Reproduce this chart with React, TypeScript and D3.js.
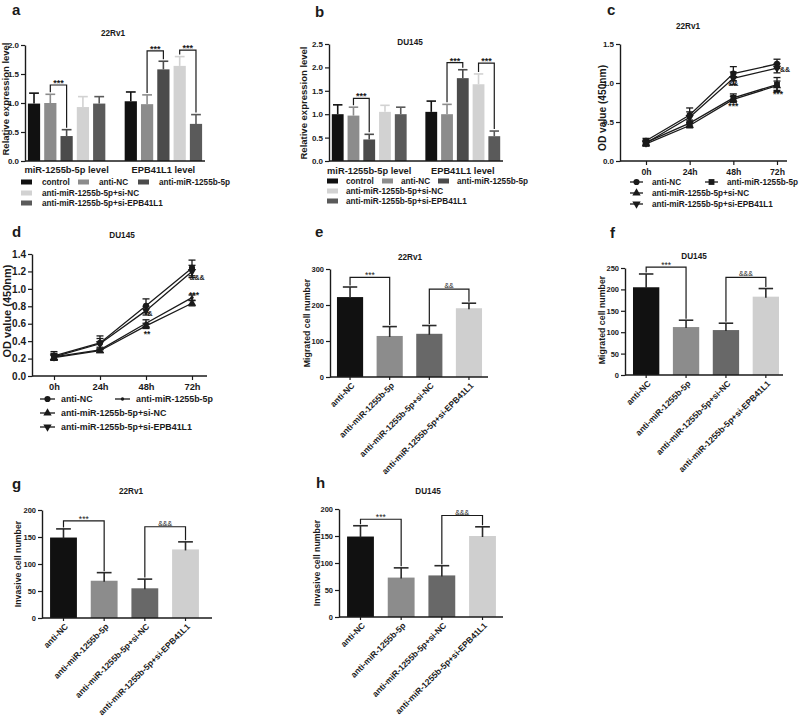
import React, { useEffect, useRef } from 'react';
import * as d3 from 'd3';

const FONT = '"Liberation Sans", Arial, Helvetica, sans-serif';
const INK = '#1a1a1a';

// ---------- Panels a, b : qPCR grouped bars ----------
const qpcrGroups = ['miR-1255b-5p level', 'EPB41L1 level'];
const qpcrSeries = ['control', 'anti-NC', 'anti-miR-1255b-5p', 'anti-miR-1255b-5p+si-NC', 'anti-miR-1255b-5p+si-EPB41L1'];
const qpcrColors = ['#111111', '#8c8c8c', '#4b4b4b', '#d2d2d2', '#5a5a5a'];
const aMiR = [0.99, 1.0, 0.43, 0.93, 0.99];
const aMiRErr = [0.18, 0.15, 0.11, 0.18, 0.12];
const aEPB = [1.03, 0.98, 1.58, 1.64, 0.64];
const aEPBErr = [0.16, 0.16, 0.14, 0.16, 0.16];
const bMiR = [1.0, 0.97, 0.46, 1.05, 1.0];
const bMiRErr = [0.2, 0.18, 0.11, 0.14, 0.15];
const bEPB = [1.05, 1.0, 1.77, 1.64, 0.53];
const bEPBErr = [0.23, 0.21, 0.18, 0.22, 0.11];
const aTicks = [0, 0.5, 1.0, 1.5, 2.0];
const bTicks = [0, 0.5, 1.0, 1.5, 2.0, 2.5];
// [group, fromSeries, toSeries, level, label]
const aBrackets: any[] = [[0, 1, 2, 1.31, '***'], [1, 1, 2, 1.9, '***'], [1, 3, 4, 1.91, '***']];
const bBrackets: any[] = [[0, 1, 2, 1.34, '***'], [1, 1, 2, 2.1, '***'], [1, 3, 4, 2.09, '***']];

// ---------- Panels c, d : CCK-8 growth curves ----------
const timePoints = ['0h', '24h', '48h', '72h'];
const lineSeries = ['anti-NC', 'anti-miR-1255b-5p', 'anti-miR-1255b-5p+si-NC', 'anti-miR-1255b-5p+si-EPB41L1'];
const cAntiNC = [0.26, 0.59, 1.12, 1.245];
const cAntiMiR = [0.24, 0.485, 0.81, 0.98];
const cSiNC = [0.22, 0.455, 0.79, 0.965];
const cSiEPB = [0.23, 0.56, 1.06, 1.19];
const cAntiNCErr = [0.03, 0.09, 0.09, 0.06];
const cAntiMiRErr = [0.03, 0.04, 0.05, 0.09];
const cSiNCErr = [0.03, 0.03, 0.04, 0.06];
const cSiEPBErr = [0.03, 0.07, 0.08, 0.06];
const dAntiNC = [0.23, 0.38, 0.805, 1.24];
const dAntiMiR = [0.22, 0.3, 0.605, 0.9];
const dSiNC = [0.21, 0.29, 0.575, 0.835];
const dSiEPB = [0.22, 0.37, 0.75, 1.2];
const dAntiNCErr = [0.05, 0.08, 0.08, 0.09];
const dAntiMiRErr = [0.03, 0.03, 0.04, 0.03];
const dSiNCErr = [0.03, 0.02, 0.03, 0.03];
const dSiEPBErr = [0.04, 0.06, 0.05, 0.07];
const cTicks = [0, 0.5, 1.0, 1.5];
const dTicks = [0, 0.2, 0.4, 0.6, 0.8, 1.0, 1.2, 1.4];
const cMarkers = ['circle', 'square', 'triangle', 'triangleDown'];
const dMarkers = ['circle', 'dot', 'triangle', 'triangleDown'];
// [time, value, dx, label]
const cNotes: any[] = [['48h', 1.0, 0, '&&'], ['48h', 0.73, 0, '***'], ['72h', 1.167, 8, '&&'], ['72h', 0.876, 1, '***']];
const dNotes: any[] = [['72h', 1.125, 5, '&&&'], ['72h', 0.953, 2, '***'], ['48h', 0.723, 4, '&'], ['48h', 0.505, 1, '**']];

// ---------- Panels e-h : migration / invasion ----------
const cellCategories = ['anti-NC', 'anti-miR-1255b-5p', 'anti-miR-1255b-5p+si-NC', 'anti-miR-1255b-5p+si-EPB41L1'];
const cellColors = ['#111111', '#8c8c8c', '#686868', '#cfcfcf'];
const eValues = [222, 114, 120, 191];
const eErr = [28, 26, 23, 14];
const fValues = [205, 112, 105, 183];
const fErr = [31, 16, 16, 19];
const gValues = [149, 69, 55, 127];
const gErr = [16, 15, 17, 14];
const hValues = [149, 73, 77, 150];
const hErr = [20, 18, 18, 17];
const eTicks = [0, 100, 200, 300];
const fTicks = [0, 50, 100, 150, 200, 250];
const ghTicks = [0, 50, 100, 150, 200];
const eBrackets: any[] = [[0, 1, 277, '***'], [2, 3, 244, '&&']];
const fBrackets: any[] = [[0, 1, 252, '***'], [2, 3, 228, '&&&']];
const gBrackets: any[] = [[0, 1, 180, '***'], [2, 3, 169, '&&&']];
const hBrackets: any[] = [[0, 1, 181, '***'], [2, 3, 188, '&&&']];

// ---------- helpers ----------
function txt(g: any, x: number, y: number, s: string, size: number, opts: any = {}) {
  return g.append('text').attr('x', x).attr('y', y).text(s)
    .attr('font-size', size).attr('font-weight', opts.weight ?? 'bold')
    .attr('text-anchor', opts.anchor ?? 'start').attr('fill', INK)
    .attr('font-family', FONT);
}
function rotLabel(g: any, bx: number, cy: number, s: string, size: number) {
  g.append('text').attr('transform', `translate(${bx},${cy}) rotate(-90)`)
    .attr('text-anchor', 'middle').attr('font-size', size).attr('font-weight', 'bold')
    .attr('font-family', FONT).attr('fill', INK).text(s);
}
function yAxis(g: any, y: any, x: number, ticks: number[], fmt: any, fs: number) {
  const ax = d3.axisLeft(y).tickValues(ticks).tickFormat(fmt).tickSize(4).tickSizeOuter(0).tickPadding(2);
  const a = g.append('g').attr('transform', `translate(${x},0)`).call(ax);
  a.select('.domain').attr('stroke', INK).attr('stroke-width', 1.4);
  a.selectAll('.tick line').attr('stroke', INK).attr('stroke-width', 1.2);
  a.selectAll('.tick text').attr('fill', INK).attr('font-size', fs).attr('font-weight', 'bold').attr('font-family', FONT);
}
function sigLabel(g: any, cx: number, cy: number, label: string, fs: number, weight = 'bold') {
  const k = label.includes('*') ? 0.55 : 0.36;
  txt(g, cx, cy + k * fs, label, fs, { anchor: 'middle', weight });
}
function bracket(g: any, xl: number, yl: number, xr: number, yr: number, yb: number) {
  g.append('path').attr('d', `M${xl},${yl}V${yb}H${xr}V${yr}`)
    .attr('fill', 'none').attr('stroke', INK).attr('stroke-width', 1.2);
}
function errBar(g: any, cx: number, y0: number, y1: number, cap: number, color: string) {
  g.append('line').attr('x1', cx).attr('x2', cx).attr('y1', y0).attr('y2', y1).attr('stroke', color).attr('stroke-width', 1.6);
  g.append('line').attr('x1', cx - cap / 2).attr('x2', cx + cap / 2).attr('y1', y1).attr('y2', y1).attr('stroke', color).attr('stroke-width', 1.6);
}

function drawQpcr(svg: any, p: any) {
  const g = svg.append('g');
  const y = d3.scaleLinear().domain([0, p.yMax]).range([p.yBot, p.yTop]);
  const x0 = d3.scaleBand().domain(qpcrGroups).range([p.x0, p.x1]).paddingInner(0.2).paddingOuter(0.03);
  const x1 = d3.scaleBand().domain(qpcrSeries).range([0, x0.bandwidth()]).paddingInner(0.25);
  const vals = [p.miR, p.epb];
  const errs = [p.miRErr, p.epbErr];
  const bw = x1.bandwidth();
  const cxOf = (gi: number, si: number) => (x0(qpcrGroups[gi]) as number) + (x1(qpcrSeries[si]) as number) + bw / 2;
  qpcrGroups.forEach((grp, gi) => {
    qpcrSeries.forEach((s, si) => {
      const v = vals[gi][si], e = errs[gi][si];
      const cx = cxOf(gi, si);
      errBar(g, cx, y(v), y(v + e), bw * 0.8, qpcrColors[si]);
      g.append('rect').attr('x', cx - bw / 2).attr('y', y(v)).attr('width', bw).attr('height', y(0) - y(v)).attr('fill', qpcrColors[si]);
    });
    txt(g, (x0(grp) as number) + x0.bandwidth() / 2, p.catY, grp, 9.3, { anchor: 'middle' });
  });
  g.append('line').attr('x1', p.x0).attr('x2', p.x1).attr('y1', p.yBot).attr('y2', p.yBot).attr('stroke', INK).attr('stroke-width', 1.4);
  yAxis(g, y, p.x0, p.ticks, d3.format('.1f'), 8);
  p.brackets.forEach((b: any) => {
    const [gi, a, c, lvl, lab] = b;
    const xl = cxOf(gi, a), xr = cxOf(gi, c);
    const yl = y(vals[gi][a] + errs[gi][a]) - 2, yr = y(vals[gi][c] + errs[gi][c]) - 2;
    const yb = y(lvl);
    bracket(g, xl, yl, xr, yr, yb);
    sigLabel(g, (xl + xr) / 2, yb - 4, lab, 9);
  });
  // legend
  const slots = [[0, 0], [1, 0], [2, 0], [0, 1], [0, 2]];
  qpcrSeries.forEach((s, si) => {
    const [col, row] = slots[si];
    const lx = p.legX + p.legCols[col];
    const ly = p.legRows[row];
    g.append('rect').attr('x', lx).attr('y', ly - 2.5).attr('width', 11).attr('height', 5).attr('fill', qpcrColors[si]);
    txt(g, lx + p.legText, ly + 3, s, 8.2);
  });
  txt(g, p.titleX, p.titleY, p.title, 8.2, { anchor: 'middle' });
  txt(g, p.letterX, p.letterY, p.letter, 15);
  rotLabel(g, p.ylabX, p.ylabY, 'Relative expression level', 9.5);
}

function marker(g: any, kind: string, x: number, y: number) {
  let sym: any = d3.symbolCircle, size = 30, rot = 0;
  if (kind === 'square') { sym = d3.symbolSquare; size = 34; }
  if (kind === 'triangle') { sym = d3.symbolTriangle; size = 30; }
  if (kind === 'triangleDown') { sym = d3.symbolTriangle; size = 30; rot = 180; }
  if (kind === 'dot') { sym = d3.symbolCircle; size = 9; }
  g.append('path').attr('d', d3.symbol().type(sym).size(size)())
    .attr('transform', `translate(${x},${y}) rotate(${rot})`).attr('fill', INK);
}

function drawGrowth(svg: any, p: any) {
  const g = svg.append('g');
  const y = d3.scaleLinear().domain([0, p.yMax]).range([p.yBot, p.yTop]);
  const x = d3.scalePoint().domain(timePoints).range([p.px0, p.px1]);
  const line = d3.line().x((d: any, i: number) => x(timePoints[i]) as number).y((d: any) => y(d));
  p.series.forEach((vals: number[], si: number) => {
    g.append('path').attr('d', (line as any)(vals)).attr('fill', 'none').attr('stroke', INK).attr('stroke-width', 1.3);
    vals.forEach((v, ti) => {
      const cx = x(timePoints[ti]) as number;
      const e = p.errs[si][ti];
      g.append('line').attr('x1', cx).attr('x2', cx).attr('y1', y(v - e)).attr('y2', y(v + e)).attr('stroke', INK).attr('stroke-width', 1.3);
      g.append('line').attr('x1', cx - 3.5).attr('x2', cx + 3.5).attr('y1', y(v + e)).attr('y2', y(v + e)).attr('stroke', INK).attr('stroke-width', 1.3);
      g.append('line').attr('x1', cx - 3.5).attr('x2', cx + 3.5).attr('y1', y(v - e)).attr('y2', y(v - e)).attr('stroke', INK).attr('stroke-width', 1.3);
      marker(g, p.markers[si], cx, y(v));
    });
  });
  const ax = d3.axisBottom(x).tickSize(4).tickSizeOuter(0).tickPadding(3.5);
  const a = g.append('g').attr('transform', `translate(0,${p.yBot})`).call(ax);
  a.select('.domain').remove();
  a.selectAll('.tick line').attr('stroke', INK).attr('stroke-width', 1.2);
  a.selectAll('.tick text').attr('fill', INK).attr('font-size', p.xfs).attr('font-weight', 'bold').attr('font-family', FONT);
  g.append('line').attr('x1', p.x0).attr('x2', p.x1).attr('y1', p.yBot).attr('y2', p.yBot).attr('stroke', INK).attr('stroke-width', 1.4);
  yAxis(g, y, p.x0, p.ticks, d3.format('.1f'), p.yfs);
  p.notes.forEach((n: any) => {
    const [t, v, dx, lab] = n;
    sigLabel(g, (x(t) as number) + dx, y(v), lab, lab.includes('*') ? 8.5 : 7);
  });
  const slots = [[0, 0], [1, 0], [0, 1], [0, 2]];
  lineSeries.forEach((s, si) => {
    const [col, row] = slots[si];
    const lx = p.legX + col * p.legCol2;
    const ly = p.legRows[row];
    g.append('line').attr('x1', lx).attr('x2', lx + p.legLine).attr('y1', ly).attr('y2', ly).attr('stroke', INK).attr('stroke-width', 1.3);
    marker(g, p.markers[si], lx + p.legLine / 2, ly);
    txt(g, lx + p.legText, ly + p.legFs * 0.36, s, p.legFs);
  });
  txt(g, p.titleX, p.titleY, p.title, 8.2, { anchor: 'middle' });
  txt(g, p.letterX, p.letterY, p.letter, 15);
  rotLabel(g, p.ylabX, p.ylabY, 'OD value (450nm)', p.ylabFs);
}

function drawCells(svg: any, p: any) {
  const g = svg.append('g');
  const y = d3.scaleLinear().domain([0, p.yMax]).range([p.yBot, p.yTop]);
  const x = d3.scaleBand().domain(cellCategories).range(p.band).paddingInner(0.34).paddingOuter(0.1);
  const bw = x.bandwidth();
  const cxOf = (i: number) => (x(cellCategories[i]) as number) + bw / 2;
  p.values.forEach((v: number, i: number) => {
    const cx = cxOf(i);
    g.append('rect').attr('x', cx - bw / 2).attr('y', y(v)).attr('width', bw).attr('height', y(0) - y(v)).attr('fill', cellColors[i]);
    errBar(g, cx, y(v) + 1, y(v + p.errs[i]), bw * 0.55, '#2a2a2a');
    g.append('line').attr('x1', cx).attr('x2', cx).attr('y1', p.yBot).attr('y2', p.yBot + 3).attr('stroke', INK).attr('stroke-width', 1.2);
    g.append('text').attr('transform', `translate(${cx + 3},${p.yBot + 7}) rotate(-45)`)
      .attr('text-anchor', 'end').attr('dy', '0.35em').attr('font-size', 8.5).attr('font-weight', 'bold')
      .attr('font-family', FONT).attr('fill', INK).text(cellCategories[i]);
  });
  g.append('line').attr('x1', p.ax0).attr('x2', p.ax1).attr('y1', p.yBot).attr('y2', p.yBot).attr('stroke', INK).attr('stroke-width', 1.4);
  yAxis(g, y, p.ax0, p.ticks, d3.format('d'), 7.5);
  p.brackets.forEach((b: any) => {
    const [a, c, lvl, lab] = b;
    const xl = cxOf(a), xr = cxOf(c);
    const yl = y(p.values[a] + p.errs[a]) - 1.5, yr = y(p.values[c] + p.errs[c]) - 1.5;
    const yb = y(lvl);
    bracket(g, xl, yl, xr, yr, yb);
    sigLabel(g, (xl + xr) / 2, yb - 3.5, lab, lab.includes('*') ? 8.5 : 7, 'normal');
  });
  txt(g, p.titleX, p.titleY, p.title, 8.2, { anchor: 'middle' });
  txt(g, p.letterX, p.letterY, p.letter, 15);
  rotLabel(g, p.ylabX, p.ylabY, p.ylab, 8.8);
}

export default function App() {
  const ref = useRef<SVGSVGElement>(null);
  useEffect(() => {
    const svg = d3.select(ref.current);
    svg.selectAll('*').remove();
    svg.append('rect').attr('width', 800).attr('height', 724).attr('fill', '#ffffff');

    drawQpcr(svg, {
      x0: 25, x1: 205, yTop: 45, yBot: 161, yMax: 2, ticks: aTicks,
      miR: aMiR, miRErr: aMiRErr, epb: aEPB, epbErr: aEPBErr, brackets: aBrackets,
      catY: 173, legX: 21, legCols: [0, 57, 117], legRows: [182, 193, 203], legText: 21,
      title: '22Rv1', titleX: 113, titleY: 36, letter: 'a', letterX: 12, letterY: 15, ylabX: 9, ylabY: 99,
    });
    drawQpcr(svg, {
      x0: 329, x1: 503, yTop: 44, yBot: 161, yMax: 2.5, ticks: bTicks,
      miR: bMiR, miRErr: bMiRErr, epb: bEPB, epbErr: bEPBErr, brackets: bBrackets,
      catY: 174, legX: 327, legCols: [0, 55, 111], legRows: [181, 191, 201], legText: 19,
      title: 'DU145', titleX: 410, titleY: 45, letter: 'b', letterX: 315, letterY: 17, ylabX: 306.5, ylabY: 103,
    });
    drawGrowth(svg, {
      x0: 620, x1: 787, px0: 646, px1: 777, yTop: 44, yBot: 161, yMax: 1.5, ticks: cTicks,
      series: [cAntiNC, cAntiMiR, cSiNC, cSiEPB], errs: [cAntiNCErr, cAntiMiRErr, cSiNCErr, cSiEPBErr],
      markers: cMarkers, notes: cNotes, xfs: 8.7, yfs: 8,
      legX: 630, legCol2: 75, legRows: [182, 193, 204], legLine: 13, legText: 22, legFs: 8.2,
      title: '22Rv1', titleX: 688, titleY: 29, letter: 'c', letterX: 607, letterY: 15, ylabX: 605.5, ylabY: 108, ylabFs: 10.2,
    });
    drawGrowth(svg, {
      x0: 32, x1: 207, px0: 54, px1: 192, yTop: 254, yBot: 376, yMax: 1.4, ticks: dTicks,
      series: [dAntiNC, dAntiMiR, dSiNC, dSiEPB], errs: [dAntiNCErr, dAntiMiRErr, dSiNCErr, dSiEPBErr],
      markers: dMarkers, notes: dNotes, xfs: 9.3, yfs: 10,
      legX: 40, legCol2: 75, legRows: [399, 413, 427], legLine: 15, legText: 21, legFs: 8.9,
      title: 'DU145', titleX: 122, titleY: 238, letter: 'd', letterX: 12, letterY: 237, ylabX: 11, ylabY: 311, ylabFs: 11,
    });
    drawCells(svg, {
      ax0: 330, ax1: 488, band: [333, 486], yTop: 269, yBot: 377, yMax: 300, ticks: eTicks,
      values: eValues, errs: eErr, brackets: eBrackets, ylab: 'Migrated cell number',
      title: '22Rv1', titleX: 410, titleY: 260, letter: 'e', letterX: 315, letterY: 237, ylabX: 310, ylabY: 323,
    });
    drawCells(svg, {
      ax0: 625, ax1: 783, band: [629, 783], yTop: 268, yBot: 375, yMax: 250, ticks: fTicks,
      values: fValues, errs: fErr, brackets: fBrackets, ylab: 'Migrated cell number',
      title: 'DU145', titleX: 694, titleY: 259, letter: 'f', letterX: 610, letterY: 238, ylabX: 605, ylabY: 320,
    });
    drawCells(svg, {
      ax0: 42, ax1: 212, band: [46, 203], yTop: 510, yBot: 618, yMax: 200, ticks: ghTicks,
      values: gValues, errs: gErr, brackets: gBrackets, ylab: 'Invasive cell number',
      title: '22Rv1', titleX: 131, titleY: 494, letter: 'g', letterX: 12, letterY: 489, ylabX: 21, ylabY: 564,
    });
    drawCells(svg, {
      ax0: 339, ax1: 503, band: [343, 500], yTop: 509, yBot: 617, yMax: 200, ticks: ghTicks,
      values: hValues, errs: hErr, brackets: hBrackets, ylab: 'Invasive cell number',
      title: 'DU145', titleX: 428, titleY: 494, letter: 'h', letterX: 316, letterY: 488, ylabX: 320, ylabY: 563,
    });
  }, []);
  return (
    <svg ref={ref} width={800} height={724} viewBox="0 0 800 724"
      style={{ position: 'absolute', left: 0, top: 0, display: 'block' }} />
  );
}
